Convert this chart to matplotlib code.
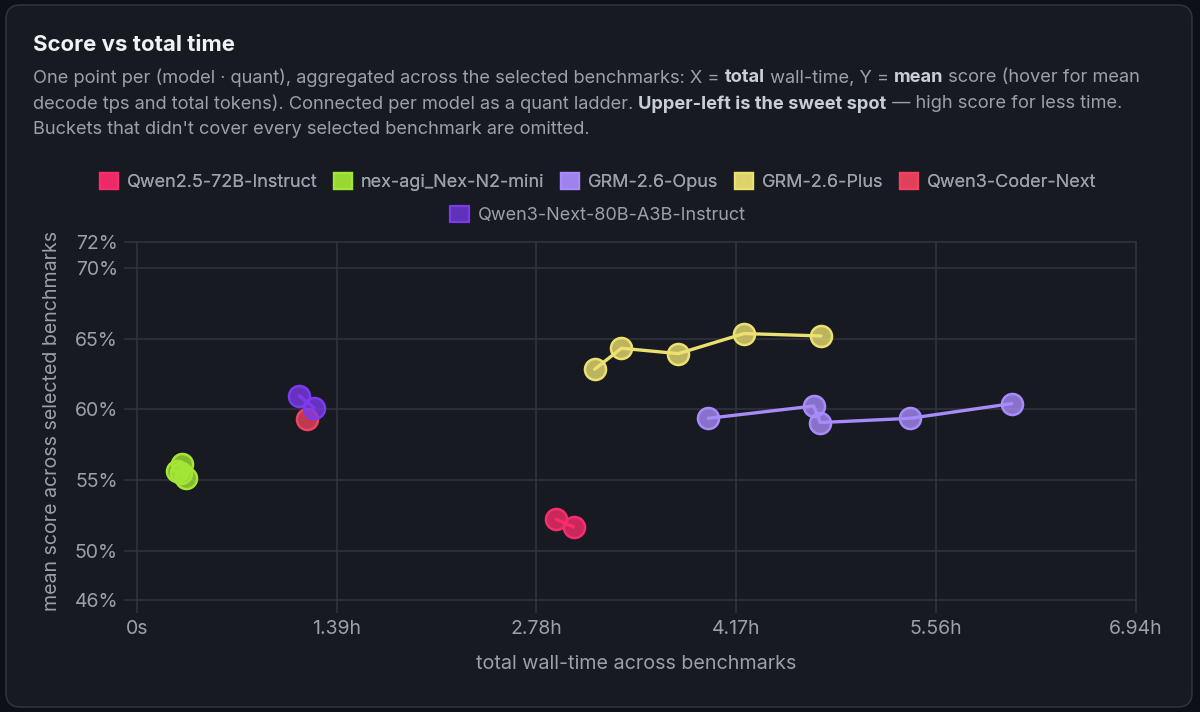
import matplotlib
matplotlib.use("Agg")
import matplotlib.pyplot as plt
from matplotlib.patches import FancyBboxPatch, Patch
from matplotlib.ticker import FixedLocator, FixedFormatter
from matplotlib.colors import to_rgba

# ---------------- data ----------------
models = ["Qwen2.5-72B-Instruct", "nex-agi_Nex-N2-mini", "GRM-2.6-Opus",
          "GRM-2.6-Plus", "Qwen3-Coder-Next", "Qwen3-Next-80B-A3B-Instruct"]
colors = ["#fb2c6c", "#a3e635", "#a78bfa", "#ece070", "#f0435f", "#7c3aed"]

# total wall-time (seconds) and mean score (%)
qwen25_time = [10495, 10929]
qwen25_score = [52.22, 51.67]
nex_time = [1137, 1010, 1112, 1237]
nex_score = [56.11, 55.61, 55.47, 55.12]
opus_time = [14301, 16936, 17101, 19344, 21893]
opus_score = [59.36, 60.23, 59.06, 59.36, 60.40]
plus_time = [11456, 12126, 13549, 15195, 17119]
plus_score = [62.83, 64.32, 63.94, 65.36, 65.19]
coder_time = [4265]
coder_score = [59.34]
next80_time = [4072, 4431]
next80_score = [60.94, 60.12]

series_time = [qwen25_time, nex_time, opus_time, plus_time, coder_time, next80_time]
series_score = [qwen25_score, nex_score, opus_score, plus_score, coder_score, next80_score]

x_ticks = [0, 5000, 10000, 15000, 20000, 25000]
x_tick_labels = ["0s", "1.39h", "2.78h", "4.17h", "5.56h", "6.94h"]
y_ticks = [46.5, 50, 55, 60, 65, 70, 71.84]
y_tick_labels = ["46%", "50%", "55%", "60%", "65%", "70%", "72%"]

# ---------------- style ----------------
FONT = ["Inter", "DejaVu Sans"]
plt.rcParams["font.family"] = FONT
BG_OUT = "#0d1117"
CARD = "#171a21"
BORDER = "#2e333b"
GRID = "#30353d"
TXT = "#9aa1ab"
TITLE = "#f0f3f6"
BOLD = "#c7ced6"

W, H = 1200, 712
fig = plt.figure(figsize=(W / 100, H / 100), dpi=100, facecolor=BG_OUT)

card = FancyBboxPatch((6 / W, 5 / H), (1186 / W), (702 / H),
                      boxstyle="round,pad=0,rounding_size=0.012",
                      transform=fig.transFigure, facecolor=CARD,
                      edgecolor=BORDER, linewidth=1.2, zorder=-5,
                      mutation_aspect=W / H)
fig.patches.append(card)

ax = fig.add_axes([136.7 / W, 1 - 600 / H, (1136 - 136.7) / W, (600 - 242) / H])
ax.set_zorder(1)
ax.set_facecolor("none")
for s in ax.spines.values():
    s.set_visible(False)

ax.set_xlim(0, 25000)
ax.set_ylim(46.5, 71.84)
ax.xaxis.set_major_locator(FixedLocator(x_ticks))
ax.xaxis.set_major_formatter(FixedFormatter(x_tick_labels))
ax.yaxis.set_major_locator(FixedLocator(y_ticks))
ax.yaxis.set_major_formatter(FixedFormatter(y_tick_labels))
ax.grid(True, color=GRID, linewidth=1.1)
ax.set_axisbelow(True)
ax.tick_params(axis="both", colors=GRID, length=9.5, width=1.1, labelcolor=TXT,
               labelsize=14)
ax.tick_params(axis="y", pad=4)
ax.tick_params(axis="x", pad=5)
for gl in ax.get_xgridlines() + ax.get_ygridlines():
    gl.set_clip_on(False)

for t, s, c in zip(series_time, series_score, colors):
    order = sorted(range(len(t)), key=lambda i: t[i])
    ts = [t[i] for i in order]
    ss = [s[i] for i in order]
    if len(ts) > 1:
        ax.plot(ts, ss, color=c, linewidth=2.4, zorder=2, solid_capstyle="round")
    ax.scatter(ts, ss, s=230, facecolor=to_rgba(c, 0.78), edgecolor=c,
               linewidth=1.8, zorder=3, clip_on=False)

fig.text(636 / W, 1 - 664 / H, "total wall-time across benchmarks", color=TXT,
         fontsize=14.2, ha="center", va="center")
fig.text(52 / W, 1 - 421 / H, "mean score across selected benchmarks", color=TXT,
         fontsize=14.1, ha="center", va="center", rotation=90)

# ---------------- title & description ----------------
fig.text(33 / W, 1 - 45 / H, "Score vs total time", color=TITLE, fontsize=16,
         fontweight="bold", ha="left", va="center")

renderer = fig.canvas.get_renderer()
DESC_FS = 13.15


def rich_line(x_px, y_px, segments):
    x = x_px
    for txt, bold in segments:
        t = fig.text(x / W, 1 - y_px / H, txt, fontsize=DESC_FS,
                     color=BOLD if bold else TXT,
                     fontweight="bold" if bold else "normal",
                     ha="left", va="center")
        bb = t.get_window_extent(renderer=renderer)
        x += bb.width


rich_line(33, 78, [
    ("One point per (model · quant), aggregated across the selected benchmarks: X = ", False),
    ("total", True), (" wall-time, Y = ", False), ("mean", True),
    (" score (hover for mean", False)])
rich_line(33, 104, [
    ("decode tps and total tokens). Connected per model as a quant ladder. ", False),
    ("Upper-left is the sweet spot", True),
    (" — high score for less time.", False)])
rich_line(33, 129, [
    ("Buckets that didn't cover every selected benchmark are omitted.", False)])

# ---------------- legend ----------------
handles = [Patch(facecolor=to_rgba(c, 0.75), edgecolor=c, linewidth=1.6, label=m)
           for m, c in zip(models, colors)]
leg1 = fig.legend(handles=handles[:5], loc="center", bbox_to_anchor=(598 / W, 1 - 182 / H),
                  ncol=5, frameon=False, fontsize=13, labelcolor=TXT,
                  handlelength=1.0, handleheight=1.0, handletextpad=0.5,
                  columnspacing=0.9, borderaxespad=0)
leg2 = fig.legend(handles=handles[5:], loc="center", bbox_to_anchor=(598 / W, 1 - 215 / H),
                  ncol=1, frameon=False, fontsize=13, labelcolor=TXT,
                  handlelength=1.0, handleheight=1.0, handletextpad=0.5,
                  borderaxespad=0)
fig.add_artist(leg1)

fig.savefig("out.png", dpi=100, facecolor=BG_OUT)
